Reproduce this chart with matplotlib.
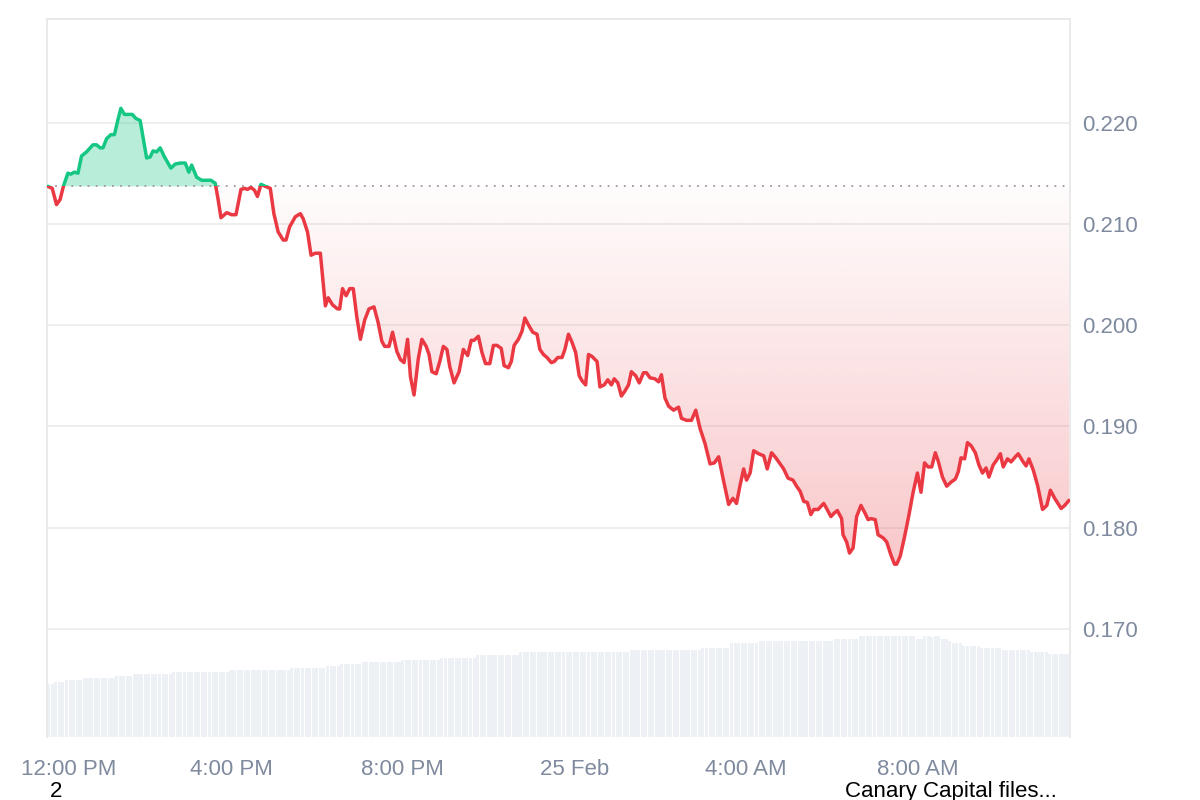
import numpy as np
import matplotlib
matplotlib.use("Agg")
import matplotlib.pyplot as plt
from matplotlib.path import Path
from matplotlib.patches import PathPatch, Rectangle
from matplotlib.transforms import ScaledTranslation

plt.rcParams["font.family"] = ["Liberation Sans", "DejaVu Sans"]

# minutes after 12:00 PM (24 Feb) and price in USD
minutes = [
    -16, -10, -4, 1, 6, 12, 16, 21, 26, 31,
    38, 47, 52, 57, 61, 66, 72, 77, 82, 86,
    91, 96, 102, 107, 113, 122, 127, 131, 136, 141,
    147, 156, 162, 169, 176, 181, 185, 192, 199, 206,
    212, 218, 222, 226, 234, 241, 247, 254, 259, 263,
    268, 273, 277, 282, 288, 295, 300, 306, 313, 317,
    322, 330, 337, 341, 347, 352, 358, 365, 372, 376,
    382, 389, 392, 396, 401, 406, 411, 416, 421, 427,
    433, 440, 446, 451, 455, 461, 466, 472, 477, 482,
    487, 491, 496, 502, 507, 513, 517, 521, 527, 532,
    537, 542, 546, 552, 559, 565, 571, 576, 580, 586,
    591, 596, 602, 607, 612, 618, 622, 628, 632, 636,
    642, 647, 651, 657, 662, 668, 672, 677, 682, 688,
    692, 697, 703, 707, 712, 717, 722, 727, 731, 736,
    740, 745, 752, 756, 762, 767, 772, 776, 781, 786,
    791, 796, 800, 806, 811, 817, 821, 826, 833, 838,
    842, 847, 852, 859, 866, 870, 877, 884, 890, 896,
    903, 910, 916, 922, 929, 936, 942, 947, 952, 957,
    961, 966, 971, 978, 985, 990, 996, 1002, 1008, 1013,
    1019, 1026, 1031, 1036, 1041, 1046, 1051, 1055, 1061, 1069,
    1073, 1079, 1083, 1088, 1094, 1096, 1101, 1105, 1110, 1115,
    1121, 1127, 1131, 1135, 1141, 1145, 1152, 1157, 1163, 1168,
    1171, 1176, 1182, 1188, 1194, 1200, 1205, 1210, 1215, 1220,
    1225, 1229, 1235, 1241, 1247, 1253, 1257, 1261, 1266, 1270,
    1275, 1281, 1286, 1291, 1296, 1300, 1306, 1311, 1316, 1320,
    1326, 1331, 1337, 1341, 1347, 1352, 1356, 1362, 1368, 1375,
    1381, 1386, 1392, 1401, 1406, 1412,
]
price = [
    0.2137, 0.2135, 0.2119, 0.2124, 0.2138, 0.2150, 0.2149, 0.2151, 0.2150, 0.2167,
    0.2171, 0.2178, 0.2178, 0.2175, 0.2175, 0.2184, 0.2188, 0.2188, 0.2203, 0.2214,
    0.2208, 0.2208, 0.2208, 0.2204, 0.2202, 0.2165, 0.2166, 0.2172, 0.2171, 0.2175,
    0.2166, 0.2155, 0.2159, 0.2160, 0.2160, 0.2151, 0.2158, 0.2146, 0.2143, 0.2143,
    0.2143, 0.2140, 0.2124, 0.2106, 0.2111, 0.2109, 0.2109, 0.2134, 0.2135, 0.2134,
    0.2136, 0.2133, 0.2127, 0.2139, 0.2137, 0.2135, 0.2110, 0.2092, 0.2084, 0.2084,
    0.2097, 0.2107, 0.2110, 0.2105, 0.2092, 0.2069, 0.2071, 0.2071, 0.2019, 0.2027,
    0.2020, 0.2016, 0.2016, 0.2036, 0.2029, 0.2036, 0.2036, 0.2008, 0.1986, 0.2005,
    0.2016, 0.2018, 0.2002, 0.1984, 0.1979, 0.1979, 0.1993, 0.1974, 0.1966, 0.1963,
    0.1986, 0.1949, 0.1931, 0.1967, 0.1986, 0.1979, 0.1971, 0.1954, 0.1952, 0.1964,
    0.1979, 0.1976, 0.1959, 0.1943, 0.1954, 0.1976, 0.1970, 0.1985, 0.1985, 0.1989,
    0.1973, 0.1962, 0.1962, 0.1980, 0.1980, 0.1977, 0.1960, 0.1958, 0.1964, 0.1980,
    0.1986, 0.1994, 0.2007, 0.1999, 0.1993, 0.1991, 0.1976, 0.1971, 0.1968, 0.1963,
    0.1964, 0.1968, 0.1968, 0.1976, 0.1991, 0.1983, 0.1973, 0.1950, 0.1945, 0.1941,
    0.1971, 0.1969, 0.1964, 0.1939, 0.1941, 0.1946, 0.1941, 0.1947, 0.1943, 0.1930,
    0.1935, 0.1941, 0.1954, 0.1950, 0.1943, 0.1953, 0.1953, 0.1948, 0.1947, 0.1944,
    0.1951, 0.1928, 0.1920, 0.1916, 0.1919, 0.1908, 0.1906, 0.1906, 0.1916, 0.1898,
    0.1883, 0.1863, 0.1864, 0.1870, 0.1846, 0.1823, 0.1829, 0.1824, 0.1842, 0.1858,
    0.1847, 0.1854, 0.1876, 0.1873, 0.1871, 0.1858, 0.1874, 0.1869, 0.1863, 0.1858,
    0.1849, 0.1847, 0.1841, 0.1836, 0.1826, 0.1825, 0.1813, 0.1818, 0.1818, 0.1824,
    0.1819, 0.1811, 0.1814, 0.1817, 0.1809, 0.1793, 0.1786, 0.1775, 0.1780, 0.1811,
    0.1822, 0.1814, 0.1808, 0.1809, 0.1808, 0.1793, 0.1790, 0.1786, 0.1773, 0.1764,
    0.1764, 0.1772, 0.1791, 0.1812, 0.1835, 0.1854, 0.1835, 0.1864, 0.1860, 0.1860,
    0.1874, 0.1866, 0.1850, 0.1841, 0.1845, 0.1848, 0.1855, 0.1869, 0.1868, 0.1884,
    0.1881, 0.1874, 0.1862, 0.1854, 0.1859, 0.1850, 0.1862, 0.1867, 0.1873, 0.1860,
    0.1868, 0.1865, 0.1870, 0.1873, 0.1866, 0.1861, 0.1868, 0.1857, 0.1842, 0.1818,
    0.1822, 0.1837, 0.1829, 0.1819, 0.1822, 0.1827,
]

# volume steps: minute where a level starts, and the level (relative units)
vol_start = [-17, -6, 9, 34, 79, 104, 159, 240, 324, 374, 394, 424, 476, 532, 581, 644, 798,
             896, 938, 980, 1085, 1118, 1199, 1209, 1218, 1225, 1232, 1244, 1250, 1264,
             1288, 1317, 1359, 1384]
vol_level = [53, 55, 57, 59, 61, 63, 65, 67, 69, 71, 73, 75, 77, 79, 82, 85, 87,
             89, 94, 96, 98, 101, 98, 101, 100, 101, 98, 96, 94, 91,
             89, 87, 85, 83]

tick_minutes = [0, 240, 480, 720, 960, 1200]
tick_labels = ["12:00 PM", "4:00 PM", "8:00 PM", "25 Feb", "4:00 AM", "8:00 AM"]
price_ticks = [0.170, 0.180, 0.190, 0.200, 0.210, 0.220]

GREEN = "#16c784"
RED = "#ea3943"
TXT = "#7f8a9e"
FRAME = "#e8e8e8"

t = np.array(minutes, dtype=float)
p = np.array(price)
base = p[0]
xmin, xmax = -17.3, 1413.4
ymin, ymax = 0.15934, 0.23022

fig = plt.figure(figsize=(12, 8), dpi=100)
pos = [47 / 1200, 1 - 737 / 800, (1070 - 47) / 1200, (737 - 19) / 800]

# volume in the background
axv = fig.add_axes(pos)
slots = np.arange(-15, 1411, 5)
lv = np.array(vol_level)[np.searchsorted(vol_start, slots, side="right") - 1]
axv.bar(slots, lv, width=4.3, color="#edf0f4", linewidth=0)
axv.set_xlim(xmin, xmax)
axv.set_ylim(0, 718)
axv.axis("off")

ax = fig.add_axes(pos)
ax.patch.set_alpha(0)

# green area above the opening price
ax.fill_between(t, p, base, where=p >= base, interpolate=True,
                color=GREEN, alpha=0.3, linewidth=0, zorder=2)

# red area below, with a vertical gradient
poly = ax.fill_between(t, p, base, where=p <= base, interpolate=True,
                       color="none", linewidth=0)
clip = PathPatch(Path.make_compound_path(*poly.get_paths()),
                 transform=ax.transData, facecolor="none", edgecolor="none")
ax.add_patch(clip)
img = np.zeros((256, 1, 4))
img[..., 0] = 234 / 255
img[..., 1] = 57 / 255
img[..., 2] = 67 / 255
img[:, 0, 3] = np.linspace(0.28, 0.015, 256)
im = ax.imshow(img, extent=[xmin, xmax, p.min(), base], origin="lower",
               aspect="auto", zorder=1, interpolation="bilinear")
im.set_clip_path(clip)

# price line, green above / red below the opening price
for col, rect in [(GREEN, Rectangle((xmin, base), xmax - xmin, 1, transform=ax.transData)),
                  (RED, Rectangle((xmin, base - 1), xmax - xmin, 1, transform=ax.transData))]:
    ln, = ax.plot(t, p, color=col, linewidth=2.5, zorder=4,
                  solid_joinstyle="round", solid_capstyle="round")
    ln.set_clip_path(rect)

ax.hlines(base, xmin, 1409, colors="#9b9b9b", linewidth=1.3,
          linestyles=(0, (1, 3.5)), zorder=3)

ax.set_xlim(xmin, xmax)
ax.set_ylim(ymin, ymax)
ax.set_yticks(price_ticks)
ax.set_yticklabels([f"{v:.3f}" for v in price_ticks])
ax.yaxis.tick_right()
ax.set_xticks(tick_minutes)
ax.set_xticklabels(tick_labels)
ax.tick_params(axis="y", length=0, pad=9, labelsize=16, labelcolor=TXT)
ax.tick_params(axis="x", length=0, pad=16, labelsize=16, labelcolor=TXT)
ax.grid(axis="y", color="#ebebeb", linewidth=1.2, zorder=0)
ax.set_axisbelow(True)
for s in ["left", "top", "right"]:
    ax.spines[s].set_color(FRAME)
    ax.spines[s].set_linewidth(1.3)
ax.spines["bottom"].set_visible(False)

first = ax.get_xticklabels()[0]
first.set_transform(first.get_transform() + ScaledTranslation(0.09, 0, fig.dpi_scale_trans))

fig.text(50 / 1200, 1 - 797 / 800, "2", fontsize=16, color="black", va="baseline")
fig.text(845 / 1200, 1 - 797 / 800, "Canary Capital files...", fontsize=16,
         color="black", va="baseline")

fig.savefig("out.png", dpi=100)
